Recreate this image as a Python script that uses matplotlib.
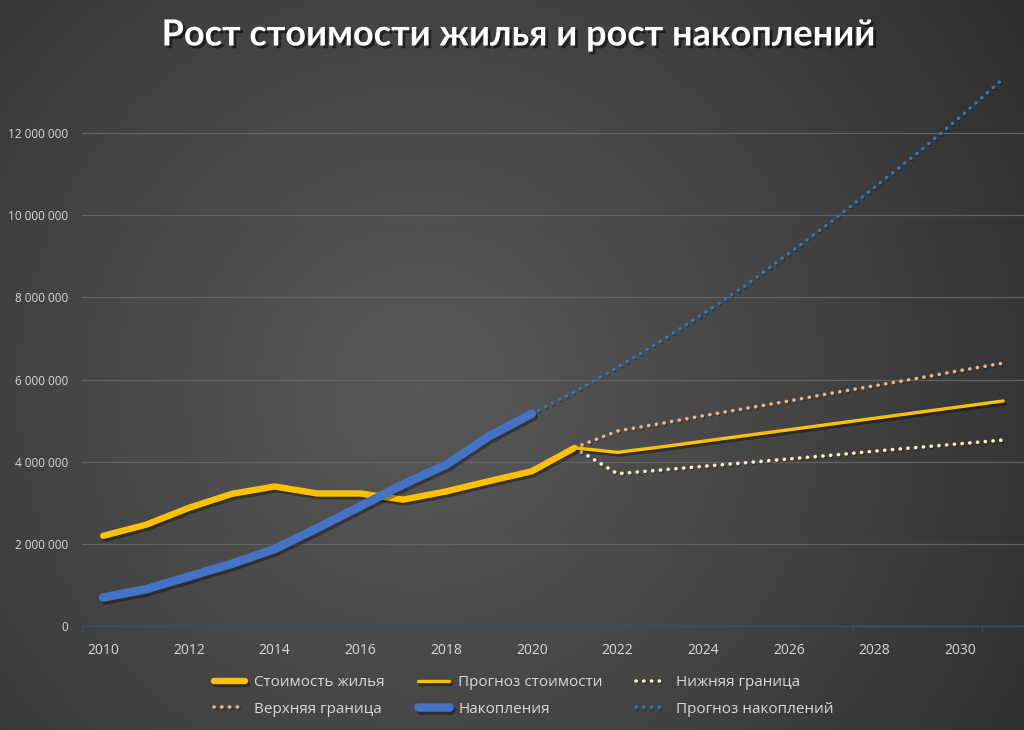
import numpy as np
import matplotlib
matplotlib.use("Agg")
import matplotlib.pyplot as plt
import matplotlib.patheffects as pe
from matplotlib.ticker import FuncFormatter, MultipleLocator, FixedLocator

# ---------------- data ----------------
years_hist = [2010, 2011, 2012, 2013, 2014, 2015, 2016, 2017, 2018, 2019, 2020, 2021]
cost_hist = [2200000, 2470000, 2880000, 3220000, 3400000, 3230000, 3230000, 3080000,
             3280000, 3530000, 3770000, 4340000]

years_fc = [2021, 2022, 2023, 2024, 2025, 2026, 2027, 2028, 2029, 2030, 2031]
cost_fc = [4340000, 4230000, 4360000, 4500000, 4640000, 4780000, 4920000, 5060000,
           5200000, 5340000, 5480000]
lower_fc = [4340000, 3710000, 3800000, 3890000, 3980000, 4070000, 4160000, 4260000,
            4350000, 4440000, 4530000]
upper_fc = [4340000, 4750000, 4930000, 5120000, 5300000, 5480000, 5670000, 5850000,
            6030000, 6220000, 6400000]

years_sav = [2010, 2011, 2012, 2013, 2014, 2015, 2016, 2017, 2018, 2019, 2020]
savings = [700000, 900000, 1210000, 1520000, 1880000, 2390000, 2920000, 3450000,
           3930000, 4620000, 5170000]

years_sav_fc = [2020, 2021, 2022, 2023, 2024, 2025, 2026, 2027, 2028, 2029, 2030, 2031]
savings_fc = [5170000, 5700000, 6300000, 6930000, 7600000, 8300000, 9070000, 9850000,
              10680000, 11510000, 12390000, 13320000]

labels = ["Стоимость жилья", "Прогноз стоимости", "Нижняя граница",
          "Верхняя граница", "Накопления", "Прогноз накоплений"]
title = "Рост стоимости жилья и рост накоплений"

# ---------------- figure ----------------
W, H = 1024, 730
fig = plt.figure(figsize=(W / 100, H / 100), dpi=100)

# radial gradient background
bg = fig.add_axes([0, 0, 1, 1], zorder=-10)
yy, xx = np.mgrid[0:H, 0:W]
r = np.sqrt((xx - 420) ** 2 + (yy - 390) ** 2) / 780.0
r = np.clip(r, 0, 1)
c0, c1 = 0x58 / 255, 0x2a / 255
val = c0 - (c0 - c1) * r ** 1.1
img = np.dstack([val, val, val])
bg.imshow(img, aspect="auto", extent=[0, 1, 0, 1], origin="upper")
bg.axis("off")

ax = fig.add_axes([81.7 / W, 103.7 / H, 943 / W, 551 / H])
ax.set_facecolor("none")

shadow = [pe.SimpleLineShadow(offset=(1.5, -2), shadow_color="black", alpha=0.35), pe.Normal()]
dshadow = [pe.SimpleLineShadow(offset=(0.8, -1), shadow_color="black", alpha=0.25), pe.Normal()]
dot = (0, (0.05, 2.1))

ax.plot(years_hist, cost_hist, color="#FFC000", lw=4.6, solid_capstyle="round",
        solid_joinstyle="round", label=labels[0], path_effects=shadow, zorder=4)
ax.plot(years_fc, cost_fc, color="#FFC000", lw=2.4, solid_capstyle="round",
        solid_joinstyle="round", label=labels[1], path_effects=shadow, zorder=4)
ax.plot(years_fc, lower_fc, color="#FFF2CC", lw=2.6, linestyle=dot, dash_capstyle="round",
        label=labels[2], path_effects=dshadow, zorder=3)
ax.plot(years_fc, upper_fc, color="#F4B183", lw=2.6, linestyle=dot, dash_capstyle="round",
        label=labels[3], path_effects=dshadow, zorder=3)
ax.plot(years_sav, savings, color="#4472C4", lw=6.2, solid_capstyle="round",
        solid_joinstyle="round", label=labels[4], path_effects=shadow, zorder=5)
ax.plot(years_sav_fc, savings_fc, color="#2E75B6", lw=2.6, linestyle=dot, dash_capstyle="round",
        label=labels[5], path_effects=dshadow, zorder=3)

ax.set_xlim(2009.5, 2031.5)
ax.set_ylim(0, 13400000)

# y axis
ax.yaxis.set_major_locator(MultipleLocator(2000000))
ax.yaxis.set_major_formatter(FuncFormatter(lambda v, p: f"{int(v):,}".replace(",", " ")))
ax.grid(axis="y", color="#626262", lw=0.9)
ax.set_axisbelow(True)

# x axis
ax.xaxis.set_major_locator(FixedLocator(list(range(2010, 2031, 2))))
ax.xaxis.set_minor_locator(FixedLocator([2009.5 + 3 * k for k in range(8)]))
ax.tick_params(axis="x", which="major", length=0, pad=12, labelsize=10, labelcolor="#d9d9d9")
ax.tick_params(axis="x", which="minor", length=4, width=0.9, color="#3f4b5a", direction="out")
ax.tick_params(axis="y", length=0, pad=10, labelsize=8.5, labelcolor="#d9d9d9")
for s in ["top", "right", "left"]:
    ax.spines[s].set_visible(False)
ax.spines["bottom"].set_color("#3f4b5a")
ax.spines["bottom"].set_linewidth(1.0)

for t in ax.get_xticklabels() + ax.get_yticklabels():
    t.set_fontfamily("Open Sans")

# title
fig.text(519 / W, 1 - 35 / H, title, ha="center", va="center", color="white",
         fontsize=26, fontweight="bold", family="Lato",
         path_effects=[pe.withSimplePatchShadow(offset=(2, -2), shadow_rgbFace="black", alpha=0.5)])

# legend (row-wise order as in the reference)
handles, labs = ax.get_legend_handles_labels()
order = [0, 3, 1, 4, 2, 5]
leg = fig.legend([handles[i] for i in order], [labs[i] for i in order], loc="center",
                 bbox_to_anchor=(524 / W, 1 - 696 / H), ncol=3,
                 frameon=False, prop={"family": "Open Sans", "size": 11},
                 handlelength=2.0, handletextpad=0.6, columnspacing=2.2, labelspacing=0.75)
for t in leg.get_texts():
    t.set_color("#d9d9d9")

fig.savefig("out.png", dpi=100)
